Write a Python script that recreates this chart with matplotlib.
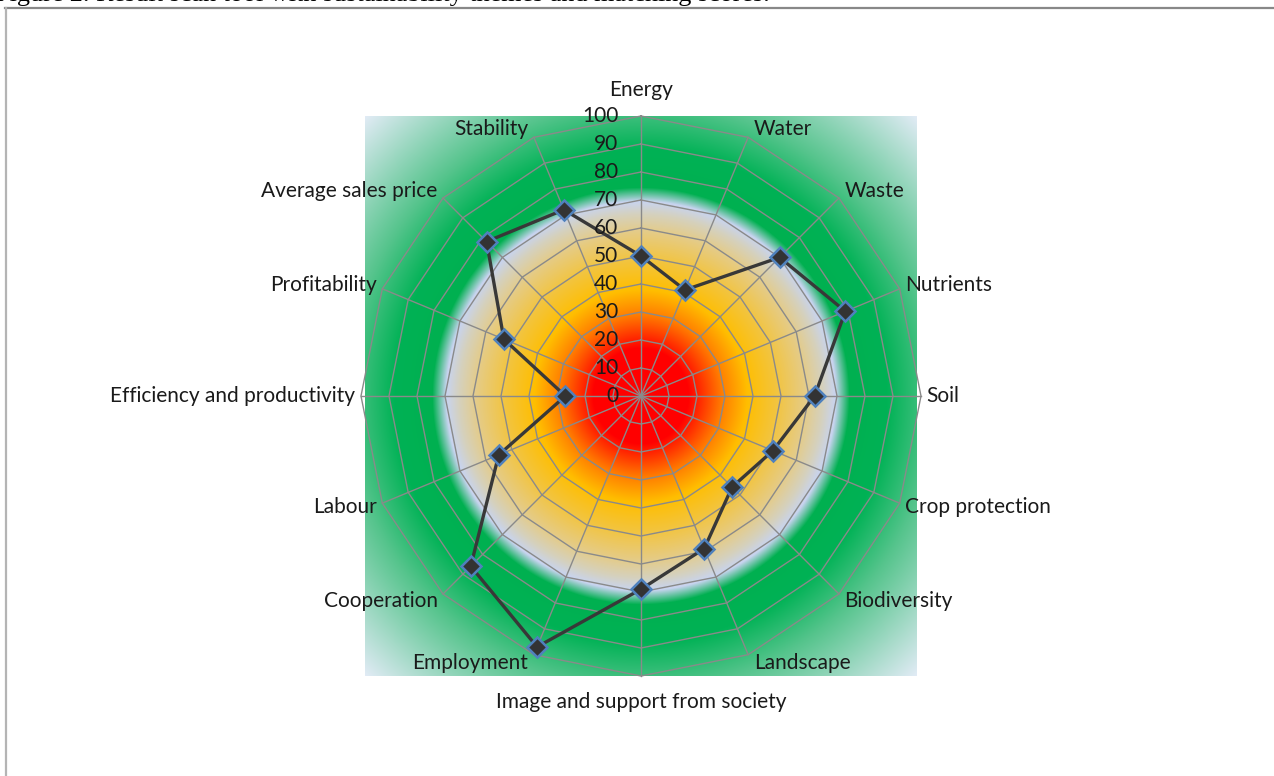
import numpy as np
import matplotlib
matplotlib.use("Agg")
import matplotlib.pyplot as plt
from matplotlib.transforms import ScaledTranslation
from matplotlib.lines import Line2D

# ---------------- data ----------------
categories = ["Energy", "Water", "Waste", "Nutrients", "Soil", "Crop protection",
              "Biodiversity", "Landscape", "Image and support from society",
              "Employment", "Cooperation", "Labour", "Efficiency and productivity",
              "Profitability", "Average sales price", "Stability"]
scores = [50, 41, 70, 79, 62, 51, 46, 59, 69, 97, 86, 55, 27, 53, 78, 72]
ring_levels = [10, 20, 30, 40, 50, 60, 70, 80, 90, 100]
radial_labels = [0, 10, 20, 30, 40, 50, 60, 70, 80, 90, 100]
caption = "Figure 2. Result scan tool with sustainability themes and matching scores."

FONT = "Lato"
W, H, DPI = 1274, 776, 100
fig = plt.figure(figsize=(W / DPI, H / DPI), dpi=DPI)
fig.patch.set_facecolor("white")

# ---------------- background gradient ----------------
R = 280.0
cx, cy = 641.0, 396.0
bg_left, bg_right, bg_top, bg_bot = 365, 917, 116, 676
bg_ax = fig.add_axes([bg_left / W, (H - bg_bot) / H, (bg_right - bg_left) / W, (bg_bot - bg_top) / H])
xs = np.arange(bg_left, bg_right) + 0.5 - cx
ys = np.arange(bg_top, bg_bot) + 0.5 - cy
XX, YY = np.meshgrid(xs, ys)
T = np.sqrt(XX ** 2 + YY ** 2) / R
stops = [
    (0.00, (255, 0, 0)),
    (0.17, (255, 0, 0)),
    (0.29, (255, 125, 0)),
    (0.38, (255, 190, 0)),
    (0.48, (243, 196, 60)),
    (0.58, (230, 203, 130)),
    (0.65, (213, 209, 190)),
    (0.695, (200, 212, 240)),
    (0.745, (0, 176, 80)),
    (0.88, (0, 178, 85)),
    (1.05, (85, 196, 140)),
    (1.40, (225, 235, 245)),
]
st = np.array([s[0] for s in stops])
cols = np.array([s[1] for s in stops], dtype=float) / 255.0
img = np.zeros(T.shape + (3,))
for k in range(3):
    img[..., k] = np.interp(T, st, cols[:, k])
bg_ax.imshow(img, aspect="auto", interpolation="bilinear")
bg_ax.set_axis_off()

# ---------------- radar axes ----------------
ax = fig.add_axes([(cx - R) / W, (H - cy - R) / H, 2 * R / W, 2 * R / H], projection="polar")
ax.set_theta_zero_location("N")
ax.set_theta_direction(-1)
ax.set_ylim(0, 100)
ax.axis("off")
ax.patch.set_alpha(0)

n = len(categories)
theta = np.arange(n) * 2 * np.pi / n
grid_col = "#8a8a8a"
closed_t = np.append(theta, theta[0])
for lv in ring_levels:
    ax.plot(closed_t, [lv] * (n + 1), color=grid_col, lw=1.0, zorder=2, clip_on=False)
for t in theta:
    ax.plot([t, t], [0, 100], color=grid_col, lw=1.0, zorder=2, clip_on=False)

vals = np.append(scores, scores[0])
ax.plot(closed_t, vals, color="#383838", lw=2.4, zorder=3, clip_on=False)
ax.plot(theta, scores, ls="none", marker="D", markersize=10.5, markerfacecolor="#333333",
        markeredgecolor="#4f81bd", markeredgewidth=1.8, zorder=4, clip_on=False)

# radial value labels
off_r = ax.transData + ScaledTranslation(-0.225, 0, fig.dpi_scale_trans)
for v in radial_labels:
    ax.text(0, v, str(v), transform=off_r, ha="right", va="center",
            fontsize=15, family=FONT, color="#1a1a1a", zorder=5)

# category labels
for t, lab in zip(theta, categories):
    s, c = np.sin(t), np.cos(t)
    if abs(s) < 0.01:
        dx, dy = 0.0, 0.165 * c
        ha = "center"
        va = "bottom" if c > 0 else "top"
    else:
        dx, dy = 0.055 * np.sign(s), 0.095 * c
        ha = "left" if s > 0 else "right"
        va = "center"
    tr = ax.transData + ScaledTranslation(dx, dy, fig.dpi_scale_trans)
    ax.text(t, 100, lab, transform=tr, ha=ha, va=va, fontsize=15, family=FONT,
            color="#1a1a1a", zorder=5)

# ---------------- page frame and cut caption ----------------
fig.add_artist(Line2D([5 / W, 1.0], [1 - 8 / H, 1 - 8 / H], color="#888888", lw=1.6))
fig.add_artist(Line2D([6 / W, 6 / W], [0, 1 - 8 / H], color="#b4b4b4", lw=1.6))
fig.text(-0.004, 1 - 0.5 / H, caption, ha="left", va="baseline", fontsize=18.8,
         family="Liberation Serif", color="black")

fig.savefig("out.png", dpi=DPI)
